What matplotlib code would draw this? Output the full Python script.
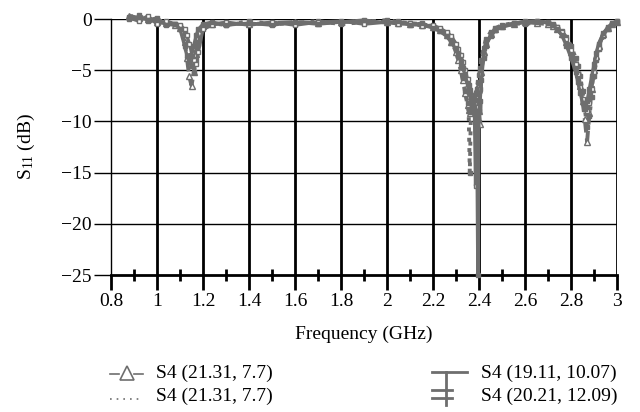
import numpy as np
import matplotlib
matplotlib.use("Agg")
import matplotlib.pyplot as plt
from matplotlib.lines import Line2D
from matplotlib.ticker import MultipleLocator

plt.rcParams["font.family"] = ["Liberation Serif", "DejaVu Serif"]
plt.rcParams["mathtext.fontset"] = "custom"
plt.rcParams["mathtext.rm"] = "Liberation Serif"

# frequency grid (GHz)
freq = [0.88, 0.92, 0.96, 1.00, 1.04, 1.08, 1.10, 1.12, 1.13, 1.14, 1.15, 1.16,
        1.17, 1.18, 1.20, 1.24, 1.30, 1.40, 1.50, 1.60, 1.70, 1.80, 1.90, 2.00,
        2.05, 2.10, 2.15, 2.20, 2.23, 2.26, 2.28, 2.30, 2.31, 2.32, 2.33, 2.34,
        2.35, 2.355, 2.36, 2.365, 2.37, 2.375, 2.38, 2.385, 2.39, 2.395, 2.40,
        2.405, 2.41, 2.42, 2.43, 2.45, 2.47, 2.50, 2.55, 2.60, 2.65, 2.70, 2.72,
        2.74, 2.76, 2.78, 2.80, 2.82, 2.83, 2.84, 2.85, 2.86, 2.87, 2.88, 2.89,
        2.90, 2.91, 2.92, 2.94, 2.96, 2.98, 3.00]

# S11 (dB) for the four antennas
s11_a = [0.3, 0.1, 0.0, -0.3, -0.4, -0.6, -0.9, -2.2, -3.8, -5.6, -6.5, -5.2,
         -3.4, -1.8, -0.7, -0.5, -0.4, -0.5, -0.4, -0.3, -0.4, -0.3, -0.2, -0.3,
         -0.4, -0.5, -0.6, -0.8, -1.1, -1.6, -2.2, -3.2, -4.0, -5.0, -6.0, -7.2,
         -8.4, -8.9, -9.2, -9.0, -8.6, -8.2, -7.8, -7.4, -7.0, -6.6, -9.0,
         -10.3, -5.2, -3.2, -2.4, -1.5, -1.0, -0.7, -0.5, -0.3, -0.4, -0.5, -0.7,
         -1.0, -1.5, -2.2, -3.2, -4.5, -5.4, -6.5, -8.0, -9.8, -12.0, -9.2, -6.8,
         -5.0, -3.6, -2.6, -1.5, -0.9, -0.5, -0.3]
s11_b = [0.2, 0.4, -0.2, -0.1, -0.3, -0.5, -0.7, -1.4, -2.4, -3.6, -4.6, -5.2,
         -4.0, -2.4, -0.8, -0.4, -0.6, -0.2, -0.5, -0.4, -0.2, -0.5, -0.3, -0.1,
         -0.3, -0.4, -0.5, -0.7, -1.0, -1.4, -1.9, -2.8, -3.6, -4.6, -5.8, -7.0,
         -8.2, -9.0, -15.0, -9.0, -8.6, -8.2, -7.8, -7.3, -6.8, -6.2, -5.5,
         -4.8, -4.0, -2.8, -2.0, -1.3, -0.9, -0.6, -0.4, -0.5, -0.3, -0.4, -0.6,
         -0.8, -1.2, -1.8, -2.6, -3.8, -4.6, -5.6, -7.0, -8.8, -10.5, -9.5, -7.6,
         -5.6, -4.0, -2.9, -1.7, -1.0, -0.5, -0.2]
s11_c = [0.1, -0.2, 0.3, -0.5, -0.2, -0.5, -0.6, -1.0, -1.6, -2.4, -3.2, -4.0,
         -4.4, -3.2, -1.0, -0.6, -0.3, -0.6, -0.3, -0.6, -0.3, -0.2, -0.5, -0.3,
         -0.5, -0.4, -0.7, -0.6, -0.9, -1.3, -1.7, -2.4, -2.9, -3.5, -4.2, -5.0,
         -5.9, -6.4, -6.9, -7.4, -7.9, -8.4, -8.8, -16.3, -9.0, -8.6, -8.0,
         -6.8, -5.4, -3.5, -2.5, -1.6, -1.1, -0.8, -0.5, -0.2, -0.2, -0.3, -0.5,
         -0.8, -1.3, -2.0, -3.0, -4.4, -5.4, -6.6, -7.8, -8.6, -9.0, -8.2, -6.8,
         -5.2, -3.8, -2.8, -1.6, -0.9, -0.5, -0.3]
s11_d = [0.0, 0.2, -0.1, 0.1, -0.6, -0.5, -1.0, -2.6, -3.6, -4.2, -3.6, -2.6,
         -1.6, -1.0, -0.5, -0.3, -0.6, -0.4, -0.6, -0.3, -0.5, -0.3, -0.1, -0.4,
         -0.2, -0.6, -0.4, -0.9, -1.2, -1.7, -2.3, -3.0, -3.5, -4.1, -4.8, -5.5,
         -6.3, -6.8, -7.2, -7.7, -8.1, -8.5, -8.8, -9.0, -9.2, -25.0, -9.0,
         -8.0, -6.0, -3.8, -2.6, -1.7, -1.1, -0.7, -0.4, -0.3, -0.2, -0.4, -0.6,
         -1.0, -1.6, -2.6, -3.8, -5.2, -6.2, -7.2, -8.2, -8.8, -8.0, -6.8, -5.6,
         -4.4, -3.3, -2.4, -1.4, -0.8, -0.4, -0.2]

labels = ["S4 (21.31, 7.7)", "S4 (21.31, 7.7)",
          "S4 (19.11, 10.07)", "S4 (20.21, 12.09)"]

gray = "#6e6e6e"
W, H = 640, 412
fs = 14

fig = plt.figure(figsize=(W / 100, H / 100), dpi=100)
ax = fig.add_axes([111 / W, 1 - 275 / H, (617 - 111) / W, (275 - 19) / H])

ax.plot(freq, s11_a, color=gray, lw=2.8, ls="--", marker="^", ms=4,
        mfc="white", mec=gray, mew=1, clip_on=False, zorder=3)
ax.plot(freq, s11_b, color=gray, lw=2.8, ls=":", marker="s", ms=3.5,
        clip_on=False, zorder=3)
ax.plot(freq, s11_c, color=gray, lw=2.4, marker="s", ms=3.5,
        mfc="white", clip_on=False, zorder=3)
ax.plot(freq, s11_d, color=gray, lw=2.4, marker="s", ms=3.5,
        clip_on=False, zorder=3)

ax.set_xlim(0.8, 3.0)
ax.set_ylim(-25, 0)
ax.xaxis.set_minor_locator(MultipleLocator(0.1))
ax.yaxis.set_major_locator(MultipleLocator(5))
ax.set_xticks(np.arange(0.8, 3.01, 0.2))
ax.set_xticklabels(["0.8", "1", "1.2", "1.4", "1.6", "1.8", "2", "2.2",
                    "2.4", "2.6", "2.8", "3"])

for x in np.arange(1.0, 3.01, 0.2):
    ax.axvline(x, color="black", lw=2, zorder=1)
for y in [-20, -15, -10, -5, 0]:
    ax.axhline(y, color="black", lw=1, zorder=1)

for side in ["top", "right"]:
    ax.spines[side].set_visible(False)
ax.spines["bottom"].set_linewidth(2)
ax.spines["left"].set_linewidth(1)

ax.tick_params(axis="x", which="major", direction="out", length=11, width=2,
               labelsize=fs, pad=2)
ax.tick_params(axis="x", which="minor", direction="inout", length=8, width=2)
ax.tick_params(axis="y", which="major", direction="out", length=12, width=1,
               labelsize=fs, pad=2)

ax.set_xlabel("Frequency (GHz)", fontsize=fs, labelpad=11)
ax.set_ylabel(r"$\mathregular{S_{11}}$ (dB)", fontsize=fs, labelpad=17)


# legend drawn below the axes
def fx(px):
    return px / W


def fy(py):
    return 1 - py / H


def seg(xs, ys, **kw):
    fig.add_artist(Line2D([fx(v) for v in xs], [fy(v) for v in ys],
                          transform=fig.transFigure, color=gray, **kw))


seg([110, 119], [374, 374], lw=1.2)
seg([134, 143], [374, 374], lw=1.2)
seg([126.5], [373], marker="^", ms=10, mfc="white", mec=gray, mew=1.2,
    ls="none")
seg([110, 143], [399, 399], lw=1.2, ls=(0, (1, 3)))
seg([432, 467], [372, 372], lw=2)
seg([446, 446], [372, 405], lw=2)
seg([432, 452], [390, 390], lw=2)
seg([432, 452], [398, 398], lw=2)

fig.text(fx(156), fy(373), labels[0], fontsize=fs, va="center")
fig.text(fx(156), fy(396), labels[1], fontsize=fs, va="center")
fig.text(fx(481), fy(373), labels[2], fontsize=fs, va="center")
fig.text(fx(481), fy(396), labels[3], fontsize=fs, va="center")

fig.savefig("out.png", dpi=100)
